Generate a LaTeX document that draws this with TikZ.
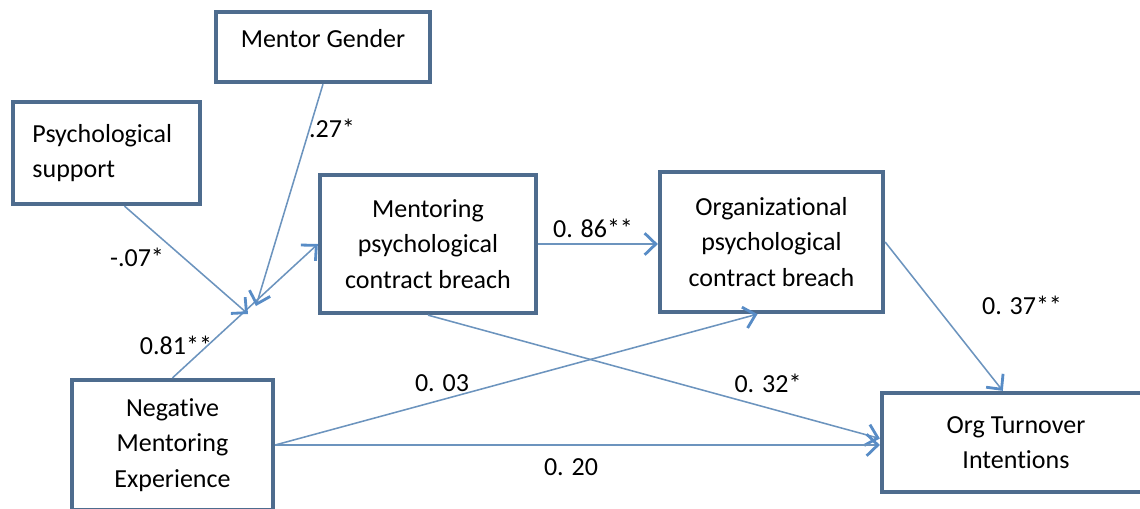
\documentclass[tikz,border=0pt]{standalone}
\usepackage{fontspec}
\setmainfont[Ligatures={NoCommon,NoRequired,NoContextual}, RawFeature={-liga;-clig;-dlig;-calt}]{Carlito}
\usepackage{tikz}
\usetikzlibrary{arrows.meta,positioning}
\definecolor{boxline}{RGB}{78,108,142}
\definecolor{pathline}{RGB}{108,148,190}
\definecolor{tipblue}{RGB}{88,140,198}
\tikzset{
	box/.style = {
			draw            = boxline,
			line width      = 3pt,
			fill            = white,
			rectangle,
			align           = center,
			font            = \fontsize{18.5}{25}\selectfont,
		},
	link/.style = {
			draw            = pathline,
			line width      = 1.1pt,
			-{Straight Barb[length=2.8mm,width=5.4mm,line width=2pt,color=tipblue]},
		},
	coef/.style = {
			font            = \fontsize{18.5}{25}\selectfont,
			inner sep       = 1pt,
		}
}

\begin{document}
\begin{tikzpicture}[x=0.025cm, y=-0.025cm]
	\useasboundingbox (0,0) rectangle (1140,508);

	% boxes
	\node[box, minimum width=5.35cm, minimum height=1.75cm, text depth=0.45cm] at (323,47) (gender) {Mentor Gender};
	\node[box, minimum width=4.675cm, minimum height=2.55cm, text width=3.7cm, align=left, inner xsep=0.49cm] at (106.5,153) (psych) {Psychological\\support};
	\node[box, minimum width=5.4cm, minimum height=3.45cm] at (428,244) (mcb) {Mentoring\\psychological\\contract breach};
	\node[box, minimum width=5.575cm, minimum height=3.5cm] at (771.5,242) (ocb) {Organizational\\psychological\\contract breach};
	\node[box, minimum width=5.025cm, minimum height=3.25cm] at (172.5,445) (nme) {Negative\\Mentoring\\Experience};
	\node[box, minimum width=7cm, minimum height=2.475cm] at (1022,442.5) (turn) {\hspace*{-0.3cm}Org Turnover\\\hspace*{-0.3cm}Intentions};

	% moderation points
	\coordinate (modpsych) at (248,314);
	\coordinate (modgender) at (256,306);

	% paths
	\draw[link] (nme.north) -- (mcb.west);
	\draw[link] ([xshift=0.45cm]psych.south) -- (modpsych);
	\draw[link] (gender.south) -- (modgender);
	\draw[link] (mcb.east) -- (mcb.east -| ocb.west);
	\draw[link] (ocb.east) -- ([xshift=-0.48cm]turn.north);
	\draw[link] (mcb.south) -- ([yshift=0.1cm]turn.west);
	\draw[link] (nme.east) -- ([xshift=-0.35cm]ocb.south);
	\draw[link] (nme.east) -- (nme.east -| turn.west);

	% coefficients
	\node[coef] at (332,128) (cgender) {.27*};
	\node[coef] at (137,257) (cpsych) {-.07*};
	\node[coef] at (176,345) (cnme) {0.81**};
	\node[coef] at (593,228) (cmcb) {0. 86**};
	\node[coef] at (1022,305) (cocb) {0. 37**};
	\node[coef] at (442,383) (cnmeocb) {0. 03};
	\node[coef] at (768,383) (cmcbturn) {0. 32*};
	\node[coef] at (571,467) (cnmeturn) {0. 20};
\end{tikzpicture}
\end{document}
